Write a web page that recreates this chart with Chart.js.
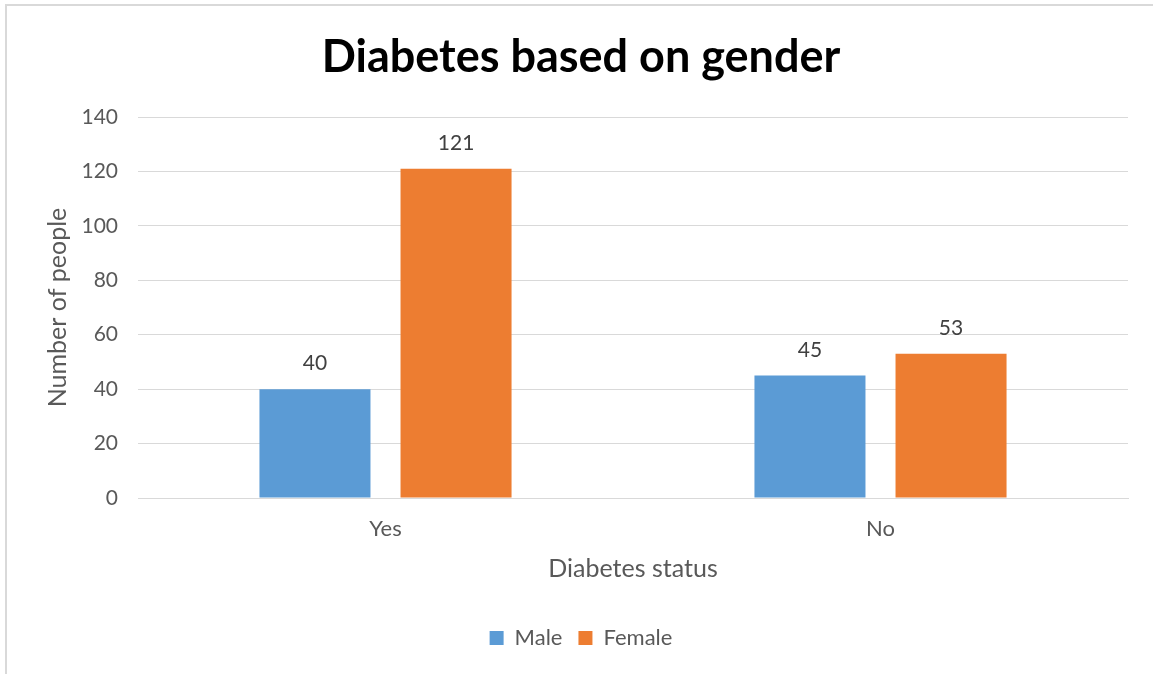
<!DOCTYPE html>
<html>
<head>
<meta charset="utf-8">
<script src="https://cdn.jsdelivr.net/npm/chart.js@4"></script>
<style>
html,body{margin:0;padding:0;background:#fff;}
#wrap{position:relative;width:1153px;height:674px;}
canvas{display:block;}
</style>
</head>
<body>
<div id="wrap"><canvas id="c" width="1153" height="674"></canvas></div>
<script>
const categories = ["Yes", "No"];
const maleValues = [40, 45];
const femaleValues = [121, 53];
const seriesNames = ["Male", "Female"];
const yTicks = [0, 20, 40, 60, 80, 100, 120, 140];

const FONT = "Lato, 'Open Sans', sans-serif";
const TXT = "#595959";

const frame = {
  id: 'frame',
  beforeDraw(chart) {
    const ctx = chart.ctx;
    ctx.save();
    ctx.fillStyle = '#fff';
    ctx.fillRect(0, 0, chart.width, chart.height);
    ctx.strokeStyle = '#d9d9d9';
    ctx.lineWidth = 2;
    ctx.beginPath();
    ctx.moveTo(6, chart.height);
    ctx.lineTo(6, 5);
    ctx.lineTo(chart.width, 5);
    ctx.stroke();
    ctx.restore();
  }
};

const valueLabels = {
  id: 'valueLabels',
  afterDatasetsDraw(chart) {
    const ctx = chart.ctx;
    ctx.save();
    ctx.font = "21px " + FONT;
    ctx.fillStyle = "#404040";
    ctx.textAlign = 'center';
    ctx.textBaseline = 'alphabetic';
    chart.data.datasets.forEach((ds, i) => {
      const meta = chart.getDatasetMeta(i);
      meta.data.forEach((bar, j) => {
        ctx.fillText(String(ds.data[j]), bar.x, bar.y - 19);
      });
    });
    ctx.restore();
  }
};

new Chart(document.getElementById('c'), {
  type: 'bar',
  data: {
    labels: categories,
    datasets: [
      { label: seriesNames[0], data: maleValues, backgroundColor: '#5B9BD5', categoryPercentage: 0.57, barPercentage: 0.787 },
      { label: seriesNames[1], data: femaleValues, backgroundColor: '#ED7D31', categoryPercentage: 0.57, barPercentage: 0.787 }
    ]
  },
  options: {
    responsive: false,
    animation: false,
    layout: { padding: { left: 34, right: 25, top: 0, bottom: 15 } },
    plugins: {
      title: {
        display: true,
        text: 'Diabetes based on gender',
        color: '#000',
        font: { family: FONT, size: 45, weight: 'bold' },
        padding: { top: 30, bottom: 33 }
      },
      legend: {
        position: 'bottom',
        labels: {
          color: TXT,
          font: { family: FONT, size: 22 },
          boxWidth: 14,
          boxHeight: 14,
          padding: 16
        }
      },
      tooltip: { enabled: false }
    },
    scales: {
      x: {
        grid: { display: false, drawTicks: false },
        border: { color: '#d9d9d9', width: 1 },
        ticks: { color: TXT, font: { family: FONT, size: 22 }, padding: 18 },
        title: { display: true, text: 'Diabetes status', color: TXT, font: { family: FONT, size: 25 }, padding: { top: 0, bottom: 27 } },
        afterFit(s) { s.height = 113; }
      },
      y: {
        min: 0, max: 140,
        afterBuildTicks(s) { s.ticks = yTicks.map(v => ({ value: v })); },
        grid: { color: '#d9d9d9', drawTicks: false },
        border: { display: false },
        ticks: { color: TXT, font: { family: FONT, size: 21 }, padding: 20 },
        title: { display: true, text: 'Number of people', color: TXT, font: { family: FONT, size: 25 }, padding: { top: 9, bottom: 0 } },
        afterFit(s) { s.width = 104; }
      }
    }
  },
  plugins: [frame, valueLabels]
});
</script>
</body>
</html>
